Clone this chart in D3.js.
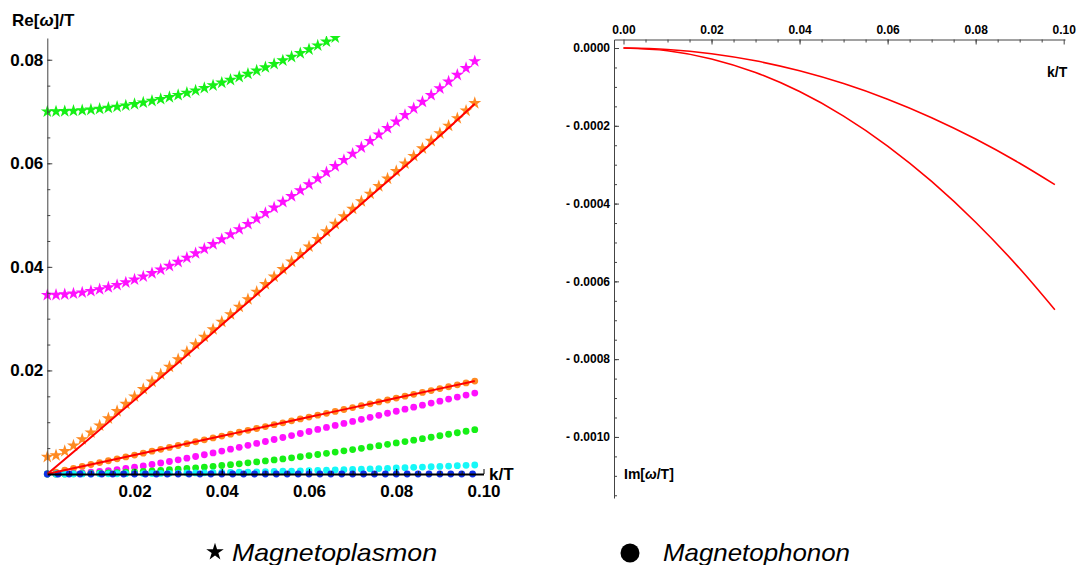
<!DOCTYPE html>
<meta charset="utf-8">
<style>
body { margin: 0; background: #fff; }
svg { font-family: "Liberation Sans", Arial, sans-serif; }
.axis text { font-weight: bold; fill: #000; }
</style>
<svg id="chart" width="1078" height="565"></svg>
<script src="https://cdnjs.cloudflare.com/ajax/libs/d3/7.8.5/d3.min.js"></script>
<script>

// k/T grids the markers sit on
var kGrid = [0, 0.002, 0.004, 0.006, 0.008, 0.010, 0.012, 0.014, 0.016, 0.018,
             0.020, 0.022, 0.024, 0.026, 0.028, 0.030, 0.032, 0.034, 0.036, 0.038,
             0.040, 0.042, 0.044, 0.046, 0.048, 0.050, 0.052, 0.054, 0.056, 0.058,
             0.060, 0.062, 0.064, 0.066, 0.068, 0.070, 0.072, 0.074, 0.076, 0.078,
             0.080, 0.082, 0.084, 0.086, 0.088, 0.090, 0.092, 0.094, 0.096, 0.098];
var kBlue = [0, 0.0025, 0.005, 0.0075, 0.010, 0.0125, 0.015, 0.0175, 0.020, 0.0225,
             0.025, 0.0275, 0.030, 0.0325, 0.035, 0.0375, 0.040, 0.0425, 0.045, 0.0475,
             0.050, 0.0525, 0.055, 0.0575, 0.060, 0.0625, 0.065, 0.0675, 0.070, 0.0725,
             0.075, 0.0775, 0.080, 0.0825, 0.085, 0.0875, 0.090, 0.0925, 0.095, 0.0975];
var kLine = [0, 0.01, 0.02, 0.03, 0.04, 0.05, 0.06, 0.07, 0.08, 0.09, 0.098];

// Re[w]/T, magnetoplasmon (stars)
var greenStars = [0.07, 0.07001, 0.07006, 0.07013, 0.07023, 0.07036, 0.07052, 0.07071, 0.07092, 0.07116,
                  0.07143, 0.07173, 0.07205, 0.0724, 0.07278, 0.07318, 0.07361, 0.07406, 0.07454, 0.07504,
                  0.07557, 0.07611, 0.07669, 0.07728, 0.07789, 0.07853, 0.07918, 0.07986, 0.08055, 0.08126,
                  0.082, 0.08275, 0.08351, 0.0843];
var magentaStars = [0.03456, 0.03459, 0.03468, 0.03484, 0.03505, 0.03533, 0.03566, 0.03605, 0.0365, 0.03699,
                    0.03754, 0.03814, 0.03878, 0.03946, 0.04019, 0.04096, 0.04176, 0.04261, 0.04348, 0.04438,
                    0.04532, 0.04628, 0.04727, 0.04828, 0.04931, 0.05037, 0.05144, 0.05254, 0.05365, 0.05478,
                    0.05593, 0.05708, 0.05826, 0.05944, 0.06064, 0.06185, 0.06307, 0.06431, 0.06555, 0.0668,
                    0.06806, 0.06932, 0.0706, 0.07188, 0.07317, 0.07446, 0.07577, 0.07707, 0.07839, 0.07971];
var orangeStars = [0.0033, 0.00361, 0.00441, 0.00548, 0.00671, 0.00801, 0.00936, 0.01074, 0.01214, 0.01355,
                   0.01497, 0.0164, 0.01783, 0.01926, 0.0207, 0.02215, 0.02359, 0.02504, 0.02649, 0.02794,
                   0.02939, 0.03084, 0.03229, 0.03374, 0.0352, 0.03665, 0.0381, 0.03956, 0.04101, 0.04247,
                   0.04392, 0.04538, 0.04684, 0.04829, 0.04975, 0.05121, 0.05266, 0.05412, 0.05558, 0.05704,
                   0.05849, 0.05995, 0.06141, 0.06287, 0.06433, 0.06578, 0.06724, 0.0687, 0.07016, 0.07162];

// Re[w]/T, magnetophonon (dots)
var orangeDots = [0, 0.00037, 0.00073, 0.0011, 0.00147, 0.00183, 0.0022, 0.00256, 0.00293, 0.0033,
                  0.00366, 0.00403, 0.0044, 0.00476, 0.00513, 0.0055, 0.00586, 0.00623, 0.0066, 0.00696,
                  0.00733, 0.00769, 0.00806, 0.00843, 0.00879, 0.00916, 0.00953, 0.00989, 0.01026, 0.01063,
                  0.01099, 0.01136, 0.01172, 0.01209, 0.01246, 0.01282, 0.01319, 0.01356, 0.01392, 0.01429,
                  0.01466, 0.01502, 0.01539, 0.01576, 0.01612, 0.01649, 0.01685, 0.01722, 0.01759, 0.01795];
var magentaDots = [0, 0.00001, 0.00006, 0.00013, 0.00022, 0.00034, 0.00049, 0.00066, 0.00086, 0.00107,
                   0.00131, 0.00156, 0.00183, 0.00212, 0.00241, 0.00273, 0.00305, 0.00338, 0.00372, 0.00407,
                   0.00443, 0.00479, 0.00516, 0.00553, 0.0059, 0.00628, 0.00666, 0.00705, 0.00743, 0.00782,
                   0.00821, 0.0086, 0.00899, 0.00938, 0.00977, 0.01016, 0.01056, 0.01095, 0.01134, 0.01173,
                   0.01212, 0.01251, 0.0129, 0.01329, 0.01369, 0.01407, 0.01446, 0.01485, 0.01524, 0.01563];
var greenDots = [0, 0, 0.00002, 0.00004, 0.00007, 0.00011, 0.00015, 0.00021, 0.00027, 0.00034,
                 0.00042, 0.00051, 0.0006, 0.00071, 0.00082, 0.00094, 0.00106, 0.0012, 0.00134, 0.00149,
                 0.00164, 0.0018, 0.00197, 0.00215, 0.00233, 0.00252, 0.00271, 0.00291, 0.00312, 0.00333,
                 0.00355, 0.00377, 0.004, 0.00423, 0.00447, 0.00472, 0.00496, 0.00522, 0.00547, 0.00574,
                 0.006, 0.00627, 0.00654, 0.00682, 0.0071, 0.00739, 0.00768, 0.00797, 0.00826, 0.00856];
var cyanDots = [0, 0, 0, 0.00001, 0.00001, 0.00002, 0.00003, 0.00004, 0.00005, 0.00006,
                0.00007, 0.00009, 0.0001, 0.00012, 0.00014, 0.00016, 0.00019, 0.00021, 0.00023, 0.00026,
                0.00029, 0.00032, 0.00035, 0.00038, 0.00042, 0.00045, 0.00049, 0.00053, 0.00057, 0.00061,
                0.00065, 0.0007, 0.00074, 0.00079, 0.00084, 0.00089, 0.00094, 0.00099, 0.00105, 0.0011,
                0.00116, 0.00122, 0.00128, 0.00134, 0.0014, 0.00147, 0.00153, 0.0016, 0.00167, 0.00174];
var blueDots = [0, 0, 0, 0, 0, 0, 0, 0, 0, 0, 0, 0, 0, 0, 0, 0, 0, 0, 0, 0,
                0, 0, 0, 0, 0, 0, 0, 0, 0, 0, 0, 0, 0, 0, 0, 0, 0, 0, 0, 0];

// red analytic curves on the left
var redLine1 = [0, 0.0071, 0.0143, 0.0215, 0.0288, 0.0361, 0.0434, 0.0507, 0.058, 0.0653, 0.0715];
var redLine2 = [0, 0.00183, 0.00366, 0.0055, 0.00733, 0.00916, 0.011, 0.01282, 0.01466, 0.01649, 0.01795];

// Im[w/T] on the right
var imMode1 = [0, -0.0000037, -0.0000146, -0.0000329, -0.0000585, -0.0000915, -0.0001317, -0.0001792, -0.0002341, -0.0002963, -0.0003513];
var imMode2 = [0, -0.000007, -0.000028, -0.000063, -0.000112, -0.000175, -0.000252, -0.000343, -0.000448, -0.000567, -0.000673];

// tick labels
var reTicks = [0.02, 0.04, 0.06, 0.08];
var kTicksLeft = [0.02, 0.04, 0.06, 0.08, 0.10];
var kTicksRight = [0, 0.02, 0.04, 0.06, 0.08, 0.10];
var imTicks = [0, -0.0002, -0.0004, -0.0006, -0.0008, -0.0010];

var svg = d3.select("#chart");

// ---------------- left panel ----------------
var x = d3.scaleLinear().domain([0, 0.1]).range([47.3, 483.5]);
var y = d3.scaleLinear().domain([0, 0.0842]).range([474, 38]);

svg.append("clipPath").attr("id", "clipL")
  .append("rect").attr("x", 30).attr("y", 36).attr("width", 470).attr("height", 460);

var gL = svg.append("g").attr("clip-path", "url(#clipL)");

var star = d3.symbol().type(d3.symbolStar).size(52);

function stars(vals, color) {
  gL.append("g").selectAll("path")
    .data(vals)
    .enter()
    .append("path")
    .attr("d", star)
    .attr("transform", function(d, i) { return "translate(" + x(kGrid[i]) + "," + y(d) + ")"; })
    .attr("fill", color);
}
function dots(ks, vals, color) {
  gL.append("g").selectAll("circle")
    .data(vals)
    .enter()
    .append("circle")
    .attr("cx", function(d, i) { return x(ks[i]); })
    .attr("cy", function(d) { return y(d); })
    .attr("r", 3.4)
    .attr("fill", color);
}

stars(greenStars, "#16f016");
stars(magentaStars, "#ff10ff");
stars(orangeStars, "#ff8a22");
dots(kGrid, orangeDots, "#ff8a22");
dots(kGrid, magentaDots, "#ff10ff");
dots(kGrid, greenDots, "#16f016");
dots(kGrid, cyanDots, "#16f8f8");
dots(kBlue, blueDots, "#1030e8");

var lineL = d3.line()
  .x(function(d, i) { return x(kLine[i]); })
  .y(function(d) { return y(d); })
  .curve(d3.curveMonotoneX);

[redLine1, redLine2].forEach(function(ser) {
  gL.append("path").datum(ser)
    .attr("d", lineL)
    .attr("fill", "none")
    .attr("stroke", "#f00")
    .attr("stroke-width", 2);
});

// axes, left
var yAxisL = svg.append("g").attr("class", "axis")
  .attr("transform", "translate(" + x(0) + ",0)")
  .call(d3.axisLeft(y).tickValues(reTicks).tickSizeInner(-5).tickSizeOuter(0).tickPadding(4)
        .tickFormat(d3.format(".2f")));
yAxisL.selectAll("text").style("font-size", "17px");
yAxisL.select(".domain").attr("stroke", "#444");
yAxisL.selectAll(".tick line").attr("stroke", "#444");
svg.append("g").attr("transform", "translate(" + x(0) + ",0)")
  .call(d3.axisLeft(y).tickValues(d3.range(0.005, 0.084, 0.005)).tickSizeInner(-3).tickSizeOuter(0).tickFormat(""))
  .call(function(g) { g.select(".domain").remove(); g.selectAll("line").attr("stroke", "#444"); });

svg.append("g").attr("transform", "translate(0," + y(0) + ")")
  .call(d3.axisBottom(x).tickValues(d3.range(0.005, 0.1, 0.005)).tickSizeInner(-3).tickSizeOuter(0).tickFormat(""))
  .call(function(g) { g.select(".domain").remove(); g.selectAll("line").attr("stroke", "#222"); });
var xAxisL = svg.append("g").attr("class", "axis")
  .attr("transform", "translate(0," + y(0) + ")")
  .call(d3.axisBottom(x).tickValues(kTicksLeft).tickSizeInner(-5).tickSizeOuter(0).tickPadding(11)
        .tickFormat(d3.format(".2f")));
xAxisL.selectAll("text").style("font-size", "17px");
xAxisL.select(".domain").attr("stroke", "#000").attr("stroke-width", 1.8);

svg.append("text").attr("x", 489).attr("y", 480)
  .style("font-size", "17px").style("font-weight", "bold").text("k/T");

var reLbl = svg.append("text").attr("x", 12).attr("y", 26)
  .style("font-size", "17px").style("font-weight", "bold");
reLbl.append("tspan").text("Re[");
reLbl.append("tspan").style("font-style", "italic").text("ω");
reLbl.append("tspan").text("]/T");

// ---------------- right panel ----------------
var xr = d3.scaleLinear().domain([-0.00216, 0.1003]).range([614, 1065]);
var yr = d3.scaleLinear().domain([0.0000219, -0.001157]).range([39.5, 498]);

var lineR = d3.line()
  .x(function(d, i) { return xr(kLine[i]); })
  .y(function(d) { return yr(d); })
  .curve(d3.curveMonotoneX);

[imMode1, imMode2].forEach(function(ser) {
  svg.append("path").datum(ser)
    .attr("d", lineR)
    .attr("fill", "none")
    .attr("stroke", "#f00")
    .attr("stroke-width", 1.6);
});

var xAxisR = svg.append("g").attr("class", "axis")
  .attr("transform", "translate(0," + yr.range()[0] + ")")
  .call(d3.axisTop(xr).tickValues(kTicksRight).tickSizeInner(-5).tickSizeOuter(0).tickPadding(6)
        .tickFormat(d3.format(".2f")));
xAxisR.selectAll("text").style("font-size", "12px");
xAxisR.selectAll("line, .domain").attr("stroke", "#444");
svg.append("g").attr("transform", "translate(0," + yr.range()[0] + ")")
  .call(d3.axisTop(xr).tickValues(d3.range(0.005, 0.1, 0.005)).tickSizeInner(-3).tickSizeOuter(0).tickFormat(""))
  .call(function(g) { g.select(".domain").remove(); g.selectAll("line").attr("stroke", "#444"); });

var yAxisR = svg.append("g").attr("class", "axis")
  .attr("transform", "translate(" + xr.range()[0] + ",0)")
  .call(d3.axisLeft(yr).tickValues(imTicks).tickSizeInner(-5).tickSizeOuter(0).tickPadding(4)
        .tickFormat(function(v) { return v === 0 ? "0.0000" : "- " + d3.format(".4f")(-v); }));
yAxisR.selectAll("text").style("font-size", "12px");
yAxisR.selectAll("line, .domain").attr("stroke", "#444");
svg.append("g").attr("transform", "translate(" + xr.range()[0] + ",0)")
  .call(d3.axisLeft(yr).tickValues(d3.range(-0.00005, -0.00116, -0.00005)).tickSizeInner(-3).tickSizeOuter(0).tickFormat(""))
  .call(function(g) { g.select(".domain").remove(); g.selectAll("line").attr("stroke", "#444"); });

svg.append("text").attr("x", 1047).attr("y", 77)
  .style("font-size", "14px").style("font-weight", "bold").text("k/T");

var imLbl = svg.append("text").attr("x", 624).attr("y", 479)
  .style("font-size", "14px").style("font-weight", "bold");
imLbl.append("tspan").text("Im[");
imLbl.append("tspan").style("font-style", "italic").text("ω");
imLbl.append("tspan").text("/T]");

// ---------------- legend ----------------
svg.append("path")
  .attr("d", d3.symbol().type(d3.symbolStar).size(95))
  .attr("transform", "translate(215,552)")
  .attr("fill", "#000");
svg.append("text").attr("x", 232).attr("y", 561)
  .attr("textLength", 205).attr("lengthAdjust", "spacingAndGlyphs")
  .style("font-size", "24px").style("font-style", "italic").text("Magnetoplasmon");

svg.append("circle").attr("cx", 630).attr("cy", 553).attr("r", 9.5).attr("fill", "#000");
svg.append("text").attr("x", 663).attr("y", 561)
  .attr("textLength", 187).attr("lengthAdjust", "spacingAndGlyphs")
  .style("font-size", "24px").style("font-style", "italic").text("Magnetophonon");

</script>
